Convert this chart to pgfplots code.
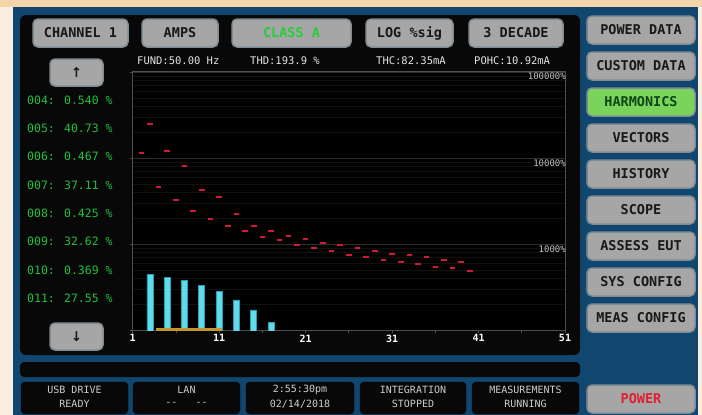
\documentclass[border=0pt]{standalone}
\usepackage{pgfplots}
\pgfplotsset{compat=1.18}
\usepackage{fontspec}
\setmainfont{DejaVu Sans Mono}
\newfontfamily\symfont{DejaVu Sans}

\definecolor{bgbeige}{RGB}{248,239,224}
\definecolor{bgtop}{RGB}{242,214,170}
\definecolor{frameblue}{RGB}{17,71,110}
\definecolor{panel}{RGB}{8,8,8}
\definecolor{btngray}{RGB}{166,166,166}
\definecolor{btnedge}{RGB}{128,140,148}
\definecolor{btntext}{RGB}{24,24,24}
\definecolor{classgreen}{RGB}{40,205,60}
\definecolor{harmfill}{RGB}{122,212,92}
\definecolor{harmtext}{RGB}{14,70,22}
\definecolor{powerred}{RGB}{222,32,52}
\definecolor{listgreen}{RGB}{32,192,62}
\definecolor{hdrwhite}{RGB}{228,228,228}
\definecolor{stattext}{RGB}{205,205,205}
\definecolor{axisgray}{RGB}{78,78,78}
\definecolor{gridmaj}{RGB}{46,46,46}
\definecolor{gridmin}{RGB}{17,17,17}
\definecolor{barcyan}{RGB}{98,218,234}
\definecolor{baredge}{RGB}{36,160,180}
\definecolor{limred}{RGB}{208,26,56}
\definecolor{goldline}{RGB}{196,150,46}

\newcommand{\btnfont}{\fontsize{13.5}{14}\selectfont\bfseries}
% x1 y1 x2 y2 fill text-colour label
\newcommand{\btn}[7]{%
  \draw[fill=#5, draw=btnedge, line width=1.5pt, rounded corners=5pt] (#1,#2) rectangle (#3,#4);
  \node[text=#6, font=\btnfont, inner sep=0pt] at ({(#1+#3)/2},{(#2+#4)/2}) {#7};}
% x1 x2 line1 line2
\newcommand{\statbox}[4]{%
  \draw[fill=panel, draw=black, rounded corners=4pt] (#1,382) rectangle (#2,414);
  \node[text=stattext, font=\fontsize{10}{10}\selectfont, inner sep=0pt] at ({(#1+#2)/2},390) {#3};
  \node[text=stattext, font=\fontsize{10}{10}\selectfont, inner sep=0pt] at ({(#1+#2)/2},404) {#4};}

\begin{document}
\begin{tikzpicture}[x=1pt,y=-1pt]
% surroundings of the screen
\fill[bgbeige] (0,0) rectangle (702,415);
\fill[bgtop] (0,0) rectangle (702,7);
\fill[frameblue] (13,7) rectangle (698,415);
\fill[panel, rounded corners=6pt] (20,15) rectangle (580,355);
\fill[panel, rounded corners=4pt] (20,362) rectangle (580,377);

% top buttons
\btn{33}{19}{128}{47}{btngray}{btntext}{CHANNEL 1}
\btn{142}{19}{218}{47}{btngray}{btntext}{AMPS}
\btn{232}{19}{351}{47}{btngray}{classgreen}{CLASS A}
\btn{366}{19}{453}{47}{btngray}{btntext}{LOG \%sig}
\btn{469}{19}{563}{47}{btngray}{btntext}{3 DECADE}

% header values
\begin{scope}[every node/.style={text=hdrwhite, font=\fontsize{10.5}{11}\selectfont, inner sep=0pt}]
\node[anchor=west] at (137,61) {FUND:50.00 Hz};
\node[anchor=west] at (250,61) {THD:193.9 \%};
\node[anchor=west] at (376,61) {THC:82.35mA};
\node[anchor=west] at (474,61) {POHC:10.92mA};
\end{scope}

% scroll buttons and list
\btn{50}{59}{103}{86}{btngray}{btntext}{\symfont\bfseries ↑}
\btn{50}{323}{103}{350}{btngray}{btntext}{\symfont\bfseries ↓}
\begin{scope}[every node/.style={text=listgreen, font=\fontsize{11.5}{12}\selectfont, inner sep=0pt, anchor=west}]
\node at (27,100.0) {004: 0.540 \%};
\node at (27,128.3) {005: 40.73 \%};
\node at (27,156.6) {006: 0.467 \%};
\node at (27,185.0) {007: 37.11 \%};
\node at (27,213.3) {008: 0.425 \%};
\node at (27,241.6) {009: 32.62 \%};
\node at (27,270.0) {010: 0.369 \%};
\node at (27,298.3) {011: 27.55 \%};
\end{scope}

% right menu
\btn{587}{16}{695}{44}{btngray}{btntext}{POWER DATA}
\btn{587}{52}{695}{80}{btngray}{btntext}{CUSTOM DATA}
\btn{587}{88}{695}{116}{harmfill}{harmtext}{HARMONICS}
\btn{587}{124}{695}{152}{btngray}{btntext}{VECTORS}
\btn{587}{160}{695}{188}{btngray}{btntext}{HISTORY}
\btn{587}{196}{695}{224}{btngray}{btntext}{SCOPE}
\btn{587}{232}{695}{260}{btngray}{btntext}{ASSESS EUT}
\btn{587}{268}{695}{296}{btngray}{btntext}{SYS CONFIG}
\btn{587}{304}{695}{332}{btngray}{btntext}{MEAS CONFIG}
\btn{587}{385}{695}{413}{btngray}{powerred}{POWER}

% status line
\statbox{21}{128}{USB DRIVE}{READY}
\statbox{133}{240}{LAN}{{-}{-}\hspace{18pt}{-}{-}}
\statbox{246}{354}{2:55:30pm}{02/14/2018}
\statbox{360}{466}{INTEGRATION}{STOPPED}
\statbox{472}{579}{MEASUREMENTS}{RUNNING}

% harmonic spectrum
\begin{axis}[
  at={(132.7pt,-330.5pt)}, anchor=south west,
  scale only axis, width=432.3pt, height=258.5pt,
  xmin=1, xmax=51,
  ymode=log, ymin=100, ymax=100000,
  axis background/.style={fill=black},
  axis line style={draw=axisgray, line width=1pt},
  xtick={1,6,...,51},
  xticklabels={1,,11,,21,,31,,41,,51},
  ytick={100,1000,10000,100000}, yticklabels={},
  minor ytick={200,300,400,500,600,700,800,900,2000,3000,4000,5000,6000,7000,8000,9000,20000,30000,40000,50000,60000,70000,80000,90000},
  xtick pos=bottom, ytick pos=left,
  tick align=outside, major tick length=3pt, minor tick length=0pt,
  tick style={draw=axisgray, line width=0.8pt},
  ymajorgrids, yminorgrids,
  major grid style={draw=gridmaj, line width=0.8pt},
  minor grid style={draw=gridmin, line width=0.6pt},
  xticklabel style={text=white, font=\fontsize{10}{10}\selectfont\bfseries, inner sep=1pt},
]
\addplot[ybar, bar width=6pt, fill=barcyan, draw=baredge, line width=0.8pt]
  coordinates {(3,449) (5,414) (7,378) (9,334) (11,282) (13,226) (15,173) (17,124)};
\addplot[draw=goldline, line width=3pt]
  coordinates {(3.7,103) (11.35,103)};
\addplot[only marks, color=limred, mark=-, mark size=2.8pt, mark options={line width=2.2pt}]
  coordinates {(2,11550) (3,24660) (4,4620) (5,12080) (6,3240) (7,8160) (8,2430)
    (9,4265) (10,1982) (11,3540) (12,1630) (13,2245) (14,1426) (15,1630) (16,1225)
    (17,1438) (18,1113) (19,1259) (20,989) (21,1161) (22,906) (23,1044) (24,836)
    (25,973) (26,751) (27,899) (28,706) (29,836) (30,662) (31,778) (32,618)
    (33,751) (34,586) (35,706) (36,545) (37,662) (38,527) (39,618) (40,490)};
\begin{scope}[every node/.style={text=hdrwhite!85!black, font=\fontsize{9}{9}\selectfont, inner sep=1pt, anchor=north east, xshift=2pt}]
\node at (axis cs:51,100000) {100000\%};
\node at (axis cs:51,10000) {10000\%};
\node at (axis cs:51,1000) {1000\%};
\end{scope}
\end{axis}
\end{tikzpicture}
\end{document}
